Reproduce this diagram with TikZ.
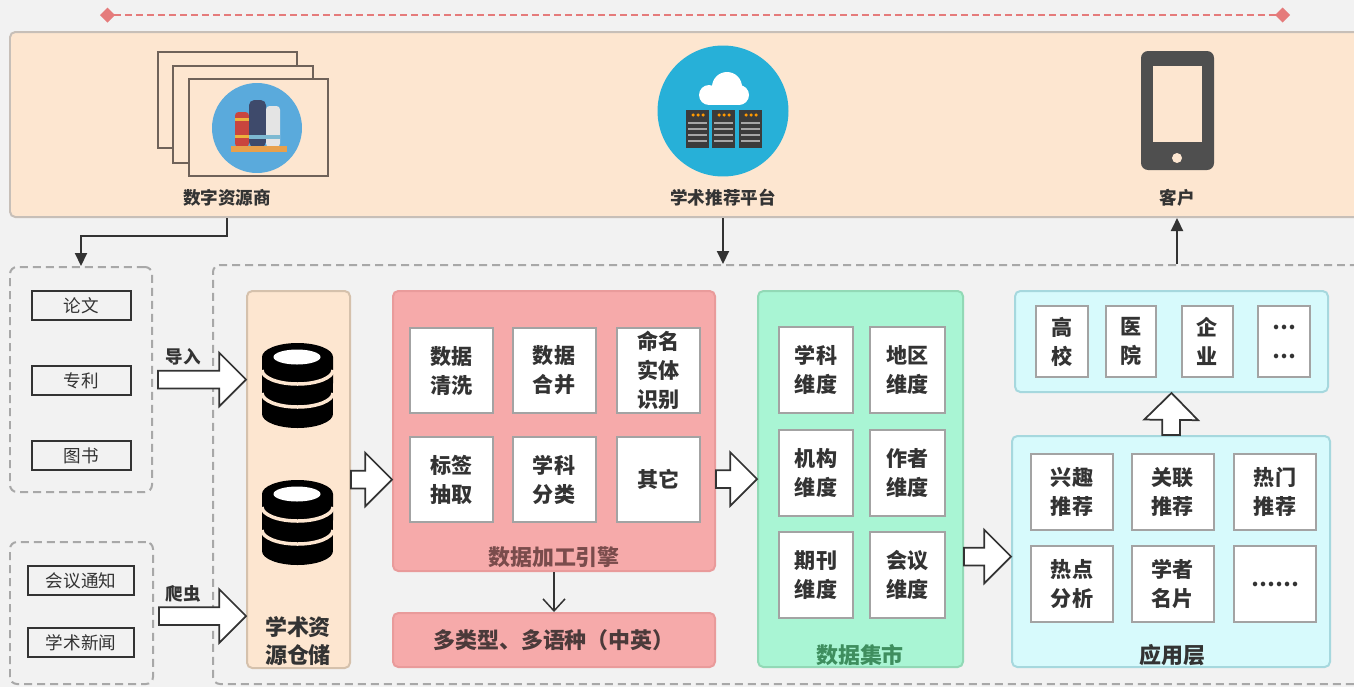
\documentclass[tikz,border=0pt]{standalone}
\usepackage{fontspec}
\setmainfont{Noto Sans CJK SC}
\usetikzlibrary{positioning,arrows.meta,shapes.arrows,calc}

\definecolor{pagebg}{HTML}{F2F2F2}
\definecolor{peach}{HTML}{FDE6D0}
\definecolor{peachline}{HTML}{C7BFB8}
\definecolor{storeline}{HTML}{D5C1AC}
\definecolor{pinkfill}{HTML}{F6AAAA}
\definecolor{pinkline}{HTML}{E99B9B}
\definecolor{enginetext}{HTML}{7A4C4C}
\definecolor{multitext}{HTML}{4B3A3A}
\definecolor{greenfill}{HTML}{A9F5D4}
\definecolor{greenline}{HTML}{92D9B6}
\definecolor{marttext}{HTML}{3E8E5E}
\definecolor{cyanfill}{HTML}{D7FAFC}
\definecolor{cyanline}{HTML}{A6D8DE}
\definecolor{zonegrey}{HTML}{A8A8A8}
\definecolor{ink}{HTML}{333333}
\definecolor{cellgrey}{HTML}{A3A3A3}
\definecolor{rulerred}{HTML}{E57B7B}
\definecolor{skyblue}{HTML}{5AAADC}
\definecolor{cloudblue}{HTML}{27B0D8}
\definecolor{serverdark}{HTML}{3B3B3B}
\definecolor{phonegrey}{HTML}{4F4F4F}
\definecolor{framebrown}{HTML}{6F6259}
\definecolor{bookred}{HTML}{C9453E}
\definecolor{booknavy}{HTML}{3E4A6B}
\definecolor{bookwhite}{HTML}{E4E4E4}
\definecolor{shelf}{HTML}{E8A04B}

\newcommand\cellfont{\fontsize{12}{16.5}\selectfont\bfseries}
\newcommand\capfont{\fontsize{10}{12}\selectfont\bfseries}
\newcommand\itemfont{\fontsize{10}{12}\selectfont}
\newcommand\titlefont{\fontsize{12.5}{15.5}\selectfont\bfseries}

% fat hollow arrow between two points
\newcommand\fatarrow[2]{%
  \path let \p1=#1, \p2=#2,
    \n1={veclen(\x2-\x1,\y2-\y1)},
    \n2={atan2(\y2-\y1,\x2-\x1)} in
    (\p1) node[hollow,minimum height=\n1,rotate=\n2,anchor=tail]{};}

\tikzset{
wh/.style 2 args={
minimum width=#1*0.02cm,
minimum height=#2*0.02cm
},
panel/.style={
draw,
rounded corners=3pt,
line width=0.04cm,
inner sep=0pt
},
zone/.style={
draw=zonegrey,
dash pattern=on 0.16cm off 0.1cm,
line width=0.04cm,
rounded corners=4pt,
inner sep=0pt
},
item/.style={
draw=ink,
line width=0.05cm,
font=\itemfont,
text=ink,
inner sep=0pt
},
cell/.style={
draw=cellgrey,
fill=white,
line width=0.04cm,
align=center,
font=\cellfont,
text=ink,
inner sep=0pt
},
link/.style={
draw=ink,
line width=0.04cm,
-{Triangle[length=0.26cm,width=0.24cm]}
},
hollow/.style={
single arrow,
draw=ink,
fill=white,
line width=0.035cm,
inner xsep=0pt,
inner ysep=0.16cm,
minimum width=1.04cm,
single arrow head extend=0.36cm,
single arrow tip angle=90,
outer sep=0pt
}
}

\begin{document}
\begin{tikzpicture}[x=0.02cm,y=-0.02cm]

\fill[pagebg] (0,0) rectangle (1354,687);
\useasboundingbox (0,0) rectangle (1354,687);

% ruler on top
\coordinate (rulerL) at (100,15);
\coordinate (rulerR) at (1290,15);
\draw[rulerred,line width=0.03cm,dash pattern=on 0.14cm off 0.08cm,
  {Diamond[length=0.3cm,width=0.3cm]}-{Diamond[length=0.3cm,width=0.3cm]}]
  (rulerL)--(rulerR);

% top band
\node[panel,draw=peachline,fill=peach,wh={1352}{185}](banner) at (686,124.5){};

% stacked frames with books
\draw[framebrown,fill=peach,line width=0.03cm] (158,52) rectangle (297,148);
\draw[framebrown,fill=peach,line width=0.03cm] (173,66) rectangle (313,163);
\draw[framebrown,fill=peach,line width=0.03cm] (189,79) rectangle (328,176);
\fill[skyblue] (257,128) circle[radius=0.9cm];
\fill[bookred,rounded corners=2pt] (235,147) -- (235,112) -- (249,112) -- (249,147) -- cycle;
\fill[booknavy,rounded corners=3pt] (249,147) -- (249,100) -- (266,100) -- (266,147) -- cycle;
\fill[bookwhite,rounded corners=2pt] (266,147) -- (266,106) -- (280,106) -- (280,147) -- cycle;
\fill[shelf!80!yellow] (235,118) rectangle (249,121);
\fill[shelf!80!yellow] (235,135) rectangle (249,138);
\fill[cyan!40!teal!60] (249,135) rectangle (266,139);
\fill[cyan!40!teal!60] (266,135) rectangle (280,139);
\fill[shelf] (231,146) rectangle (287,152);

% cloud platform
\fill[cloudblue] (723,111) circle[radius=1.31cm];
\fill[white] (727,87) circle[radius=0.3cm];
\fill[white] (709,95) circle[radius=0.2cm];
\fill[white] (739,95) circle[radius=0.2cm];
\fill[white] (709,92) rectangle (739,105);
\foreach \sx in {686,712,739}{
  \fill[serverdark] (\sx,110) rectangle (\sx+23,148);
  \foreach \dx in {7,12,17}
    \fill[orange!80!yellow] (\sx+\dx,115) circle[radius=0.035cm];
  \foreach \ly in {123,129,135,141}
    \draw[gray!70,line width=0.025cm] (\sx+2,\ly) -- (\sx+21,\ly);
}

% phone
\fill[phonegrey,rounded corners=4pt] (1141,51) rectangle (1214,170);
\fill[peach] (1153,66) rectangle (1202,142);
\fill[peach] (1177,158) circle[radius=0.1cm];

\node[font=\capfont,text=ink](vendor) at (227,198){数字资源商};
\node[font=\capfont,text=ink](platform) at (723,198){学术推荐平台};
\node[font=\capfont,text=ink](client) at (1177,198){客户};

% sources
\node[zone,wh={142}{225}](srcA) at (81,379.5){};
\node[zone,wh={143}{142}](srcB) at (81.5,613){};

\node[item,wh={99}{29}](paper) at (81.5,305.5){论文};
\node[item,wh={99}{29}](patent) at (81.5,380.5){专利};
\node[item,wh={99}{29}](book) at (81.5,455.5){图书};
\node[item,wh={106}{29}](notice) at (81,580.5){会议通知};
\node[item,wh={106}{29}](news) at (81,642.5){学术新闻};

% processing area
\node[zone,wh={1152}{419}](core) at (789,474.5){};

\node[panel,draw=storeline,fill=peach,wh={103}{377}](store) at (298.5,479.5){};
\foreach \top in {343,480}{
  \fill[black] (262,\top+14) -- (262,\top+71)
    arc[start angle=180,end angle=360,x radius=0.71cm,y radius=0.28cm]
    -- (333,\top+14)
    arc[start angle=0,end angle=180,x radius=0.71cm,y radius=0.28cm] -- cycle;
  \fill[white] (297,\top+14) ellipse[x radius=0.47cm,y radius=0.15cm];
  \draw[peach,line width=0.07cm] (262,\top+27)
    arc[start angle=180,end angle=360,x radius=0.71cm,y radius=0.28cm];
  \draw[peach,line width=0.07cm] (262,\top+50)
    arc[start angle=180,end angle=360,x radius=0.71cm,y radius=0.28cm];
}
\node[font=\titlefont,text=ink,align=center](storeCap) at (298,641){学术资\\源仓储};

\node[panel,draw=pinkline,fill=pinkfill,wh={322}{280}](engine) at (554,431){};
\node[cell,wh={83}{85}](clean) at (451.5,370.5){数据\\清洗};
\node[cell,wh={83}{85}](merge) at (554,370.5){数据\\合并};
\node[cell,wh={83}{85}](ner) at (658.5,370.5){命名\\实体\\识别};
\node[cell,wh={83}{85}](tag) at (451.5,479.5){标签\\抽取};
\node[cell,wh={83}{85}](subject) at (554,479.5){学科\\分类};
\node[cell,wh={83}{85}](other) at (658.5,479.5){其它};
\node[font=\titlefont,text=enginetext](engineCap) at (554,557){数据加工引擎};

\node[panel,draw=pinkline,fill=pinkfill,wh={322}{54},font=\titlefont,text=multitext](multi) at (554,640){多类型、多语种（中英）};

\node[panel,draw=greenline,fill=greenfill,wh={205}{376}](mart) at (860.5,479){};
\node[cell,wh={74}{86}](dimSubj) at (816,370){学科\\维度};
\node[cell,wh={75}{86}](dimArea) at (907.5,370){地区\\维度};
\node[cell,wh={74}{86}](dimInst) at (816,473){机构\\维度};
\node[cell,wh={75}{86}](dimAuth) at (907.5,473){作者\\维度};
\node[cell,wh={74}{86}](dimJour) at (816,575){期刊\\维度};
\node[cell,wh={75}{86}](dimConf) at (907.5,575){会议\\维度};
\node[font=\titlefont,text=marttext](martCap) at (860,655){数据集市};

\node[panel,draw=cyanline,fill=cyanfill,wh={318}{231}](app) at (1171,551.5){};
\node[cell,wh={82}{76}](interest) at (1072,491.5){兴趣\\推荐};
\node[cell,wh={82}{76}](related) at (1172.5,491.5){关联\\推荐};
\node[cell,wh={82}{76}](hot) at (1275,491.5){热门\\推荐};
\node[cell,wh={82}{76}](trend) at (1072,584){热点\\分析};
\node[cell,wh={82}{76}](card) at (1172.5,584){学者\\名片};
\node[cell,wh={82}{76}](more) at (1275,584){……};
\node[font=\titlefont,text=ink](appCap) at (1172,655){应用层};

\node[panel,draw=cyanline,fill=cyanfill,wh={313}{101}](users) at (1171.5,341.5){};
\node[cell,wh={52}{71}](univ) at (1062,341.5){高\\校};
\node[cell,wh={50}{71}](hosp) at (1131,341.5){医\\院};
\node[cell,wh={51}{71}](corp) at (1207.5,341.5){企\\业};
\node[cell,wh={52}{71}](etc) at (1284,341.5){…\\…};

% connectors
\draw[link](vendor.south|-banner.south)--++(0,18)-|(srcA.north);
\draw[link](platform.south|-banner.south)--(platform.south|-core.north);
\draw[link](client.south|-core.north)--(client.south|-banner.south);

\fatarrow{($(srcA.east)+(5,0)$)}{(store.west|-srcA.east)}
\fatarrow{($(srcB.east)+(5,3)$)}{($(store.west|-srcB.east)+(0,3)$)}
\fatarrow{(store.east)}{(engine.west|-store.east)}
\fatarrow{(engine.east|-mart.west)}{(mart.west)}
\fatarrow{($(mart.east|-app.west)+(0,5)$)}{($(app.west)+(0,5)$)}
\fatarrow{(app.north)}{(users.south)}

\node[font=\capfont,text=ink](importCap) at (183,357){导入};
\node[font=\capfont,text=ink](crawlCap) at (183,594){爬虫};

\draw[ink,line width=0.03cm,-{Straight Barb[length=0.24cm,width=0.44cm]}](engine.south)--(multi.north);

\end{tikzpicture}
\end{document}
